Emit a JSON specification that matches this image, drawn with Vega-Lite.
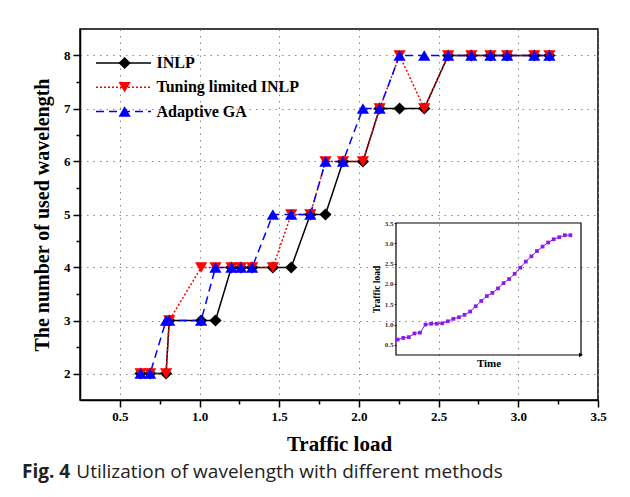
{
  "$schema": "https://vega.github.io/schema/vega-lite/v6.json",
  "width": 518,
  "height": 371,
  "autosize": {"type": "none"},
  "padding": {"left": 80, "top": 29, "right": 32, "bottom": 97},
  "background": "white",
  "config": {"view": {"stroke": "black", "strokeWidth": 1.5}, "font": "Liberation Serif"},
  "title": {"text": "Fig. 4", "subtitle": "\u200b\u00a0\u00a0\u00a0\u00a0\u00a0\u00a0\u00a0\u00a0\u00a0\u00a0\u00a0Utilization of wavelength with different methods", "orient": "bottom", "anchor": "start", "frame": "group", "dx": -58, "offset": 9, "font": "Open Sans", "fontSize": 19, "fontWeight": "bold", "color": "#222", "subtitleFont": "Open Sans", "subtitleFontSize": 19, "subtitleFontWeight": "normal", "subtitleColor": "#222", "subtitlePadding": -19},
  "datasets": {
    "main": [
      {"method": "INLP", "load": 0.63, "wavelengths": 2},
      {"method": "INLP", "load": 0.69, "wavelengths": 2},
      {"method": "INLP", "load": 0.79, "wavelengths": 2},
      {"method": "INLP", "load": 0.81, "wavelengths": 3},
      {"method": "INLP", "load": 1.01, "wavelengths": 3},
      {"method": "INLP", "load": 1.10, "wavelengths": 3},
      {"method": "INLP", "load": 1.20, "wavelengths": 4},
      {"method": "INLP", "load": 1.26, "wavelengths": 4},
      {"method": "INLP", "load": 1.33, "wavelengths": 4},
      {"method": "INLP", "load": 1.46, "wavelengths": 4},
      {"method": "INLP", "load": 1.575, "wavelengths": 4},
      {"method": "INLP", "load": 1.695, "wavelengths": 5},
      {"method": "INLP", "load": 1.79, "wavelengths": 5},
      {"method": "INLP", "load": 1.90, "wavelengths": 6},
      {"method": "INLP", "load": 2.025, "wavelengths": 6},
      {"method": "INLP", "load": 2.13, "wavelengths": 7},
      {"method": "INLP", "load": 2.255, "wavelengths": 7},
      {"method": "INLP", "load": 2.41, "wavelengths": 7},
      {"method": "INLP", "load": 2.56, "wavelengths": 8},
      {"method": "INLP", "load": 2.705, "wavelengths": 8},
      {"method": "INLP", "load": 2.825, "wavelengths": 8},
      {"method": "INLP", "load": 2.93, "wavelengths": 8},
      {"method": "INLP", "load": 3.10, "wavelengths": 8},
      {"method": "INLP", "load": 3.195, "wavelengths": 8},
      {"method": "Tuning limited INLP", "load": 0.63, "wavelengths": 2},
      {"method": "Tuning limited INLP", "load": 0.69, "wavelengths": 2},
      {"method": "Tuning limited INLP", "load": 0.79, "wavelengths": 2},
      {"method": "Tuning limited INLP", "load": 0.81, "wavelengths": 3},
      {"method": "Tuning limited INLP", "load": 1.01, "wavelengths": 4},
      {"method": "Tuning limited INLP", "load": 1.10, "wavelengths": 4},
      {"method": "Tuning limited INLP", "load": 1.20, "wavelengths": 4},
      {"method": "Tuning limited INLP", "load": 1.26, "wavelengths": 4},
      {"method": "Tuning limited INLP", "load": 1.33, "wavelengths": 4},
      {"method": "Tuning limited INLP", "load": 1.46, "wavelengths": 4},
      {"method": "Tuning limited INLP", "load": 1.575, "wavelengths": 5},
      {"method": "Tuning limited INLP", "load": 1.695, "wavelengths": 5},
      {"method": "Tuning limited INLP", "load": 1.79, "wavelengths": 6},
      {"method": "Tuning limited INLP", "load": 1.90, "wavelengths": 6},
      {"method": "Tuning limited INLP", "load": 2.025, "wavelengths": 6},
      {"method": "Tuning limited INLP", "load": 2.13, "wavelengths": 7},
      {"method": "Tuning limited INLP", "load": 2.255, "wavelengths": 8},
      {"method": "Tuning limited INLP", "load": 2.41, "wavelengths": 7},
      {"method": "Tuning limited INLP", "load": 2.56, "wavelengths": 8},
      {"method": "Tuning limited INLP", "load": 2.705, "wavelengths": 8},
      {"method": "Tuning limited INLP", "load": 2.825, "wavelengths": 8},
      {"method": "Tuning limited INLP", "load": 2.93, "wavelengths": 8},
      {"method": "Tuning limited INLP", "load": 3.10, "wavelengths": 8},
      {"method": "Tuning limited INLP", "load": 3.195, "wavelengths": 8},
      {"method": "Adaptive GA", "load": 0.63, "wavelengths": 2},
      {"method": "Adaptive GA", "load": 0.69, "wavelengths": 2},
      {"method": "Adaptive GA", "load": 0.79, "wavelengths": 3},
      {"method": "Adaptive GA", "load": 0.81, "wavelengths": 3},
      {"method": "Adaptive GA", "load": 1.01, "wavelengths": 3},
      {"method": "Adaptive GA", "load": 1.10, "wavelengths": 4},
      {"method": "Adaptive GA", "load": 1.20, "wavelengths": 4},
      {"method": "Adaptive GA", "load": 1.26, "wavelengths": 4},
      {"method": "Adaptive GA", "load": 1.33, "wavelengths": 4},
      {"method": "Adaptive GA", "load": 1.46, "wavelengths": 5},
      {"method": "Adaptive GA", "load": 1.575, "wavelengths": 5},
      {"method": "Adaptive GA", "load": 1.695, "wavelengths": 5},
      {"method": "Adaptive GA", "load": 1.79, "wavelengths": 6},
      {"method": "Adaptive GA", "load": 1.90, "wavelengths": 6},
      {"method": "Adaptive GA", "load": 2.025, "wavelengths": 7},
      {"method": "Adaptive GA", "load": 2.13, "wavelengths": 7},
      {"method": "Adaptive GA", "load": 2.255, "wavelengths": 8},
      {"method": "Adaptive GA", "load": 2.41, "wavelengths": 8},
      {"method": "Adaptive GA", "load": 2.56, "wavelengths": 8},
      {"method": "Adaptive GA", "load": 2.705, "wavelengths": 8},
      {"method": "Adaptive GA", "load": 2.825, "wavelengths": 8},
      {"method": "Adaptive GA", "load": 2.93, "wavelengths": 8},
      {"method": "Adaptive GA", "load": 3.10, "wavelengths": 8},
      {"method": "Adaptive GA", "load": 3.195, "wavelengths": 8}
    ],
    "inset": [
      {"time": 1, "load": 0.63}, {"time": 2, "load": 0.67}, {"time": 3, "load": 0.69}, {"time": 4, "load": 0.78},
      {"time": 5, "load": 0.80}, {"time": 6, "load": 1.00}, {"time": 7, "load": 1.02}, {"time": 8, "load": 1.02},
      {"time": 9, "load": 1.03}, {"time": 10, "load": 1.08}, {"time": 11, "load": 1.14}, {"time": 12, "load": 1.18},
      {"time": 13, "load": 1.24}, {"time": 14, "load": 1.32}, {"time": 15, "load": 1.45}, {"time": 16, "load": 1.58},
      {"time": 17, "load": 1.70}, {"time": 18, "load": 1.78}, {"time": 19, "load": 1.89}, {"time": 20, "load": 2.02},
      {"time": 21, "load": 2.12}, {"time": 22, "load": 2.25}, {"time": 23, "load": 2.40}, {"time": 24, "load": 2.55},
      {"time": 25, "load": 2.68}, {"time": 26, "load": 2.81}, {"time": 27, "load": 2.92}, {"time": 28, "load": 3.02},
      {"time": 29, "load": 3.10}, {"time": 30, "load": 3.15}, {"time": 31, "load": 3.20}, {"time": 32, "load": 3.20}
    ]
  },
  "layer": [
    {
      "data": {"name": "main"},
      "encoding": {
        "x": {"field": "load", "type": "quantitative", "scale": {"domain": [0.25, 3.5], "nice": false, "zero": false},
          "axis": {"orient": "bottom", "values": [0.5, 0.75, 1, 1.25, 1.5, 1.75, 2, 2.25, 2.5, 2.75, 3, 3.25, 3.5],
            "labelExpr": "datum.value % 0.5 === 0 ? format(datum.value, '.1f') : ''",
            "tickSize": {"condition": {"test": "datum.value % 0.5 === 0", "value": 7}, "value": 4},
            "gridOpacity": {"condition": {"test": "datum.value % 0.5 === 0", "value": 1}, "value": 0},
            "grid": true, "gridColor": "#888", "gridDash": [1.5, 5], "gridWidth": 1,
            "domain": true, "domainColor": "black", "domainWidth": 1.5,
            "ticks": true, "tickColor": "black", "tickWidth": 1.5,
            "labelFont": "Liberation Serif", "labelFontSize": 13, "labelFontWeight": "bold", "labelColor": "black", "labelPadding": 3,
            "labelFlush": false, "labelOverlap": false,
            "title": "Traffic load", "titleFont": "Liberation Serif", "titleFontSize": 21, "titleFontWeight": "bold", "titleColor": "black", "titlePadding": 10}},
        "y": {"field": "wavelengths", "type": "quantitative", "scale": {"domain": [1.5, 8.5], "nice": false, "zero": false},
          "axis": {"orient": "left", "values": [2, 2.5, 3, 3.5, 4, 4.5, 5, 5.5, 6, 6.5, 7, 7.5, 8],
            "labelExpr": "datum.value % 1 === 0 ? format(datum.value, 'd') : ''",
            "tickSize": {"condition": {"test": "datum.value % 1 === 0", "value": 7}, "value": 4},
            "gridOpacity": {"condition": {"test": "datum.value % 1 === 0", "value": 1}, "value": 0},
            "grid": true, "gridColor": "#888", "gridDash": [1.5, 5], "gridWidth": 1,
            "domain": true, "domainColor": "black", "domainWidth": 1.5,
            "ticks": true, "tickColor": "black", "tickWidth": 1.5,
            "labelFont": "Liberation Serif", "labelFontSize": 13, "labelFontWeight": "bold", "labelColor": "black", "labelPadding": 3,
            "labelFlush": false, "labelOverlap": false,
            "title": "The number of used wavelength", "titleFont": "Liberation Serif", "titleFontSize": 20, "titleFontWeight": "bold", "titleColor": "black", "titlePadding": 11}}
      },
      "layer": [
        {
          "mark": {"type": "line", "strokeWidth": 1.5},
          "encoding": {
            "stroke": {"field": "method", "type": "nominal",
              "scale": {"domain": ["INLP", "Tuning limited INLP", "Adaptive GA"], "range": ["black", "red", "blue"]},
              "legend": null},
            "strokeDash": {"field": "method", "type": "nominal",
              "scale": {"domain": ["INLP", "Tuning limited INLP", "Adaptive GA"], "range": [[1, 0], [2, 2], [8, 5]]},
              "legend": null}
          }
        },
        {
          "mark": {"type": "point", "filled": true, "size": 150, "opacity": 1},
          "encoding": {
            "fill": {"field": "method", "type": "nominal",
              "scale": {"domain": ["INLP", "Tuning limited INLP", "Adaptive GA"], "range": ["black", "red", "blue"]},
              "legend": null},
            "shape": {"field": "method", "type": "nominal",
              "scale": {"domain": ["INLP", "Tuning limited INLP", "Adaptive GA"], "range": ["diamond", "triangle-down", "triangle-up"]},
              "legend": null}
          }
        }
      ]
    },
    {
      "data": {"name": "main"},
      "transform": [{"aggregate": [{"op": "count", "as": "n"}], "groupby": ["method"]}],
      "encoding": {
        "y": {"field": "method", "type": "nominal",
          "scale": {"type": "point", "domain": ["INLP", "Tuning limited INLP", "Adaptive GA"], "range": [34, 82.5], "padding": 0}, "axis": null}
      },
      "layer": [
        {
          "mark": {"type": "rule", "strokeWidth": 1.5},
          "encoding": {
            "x": {"datum": 0, "type": "quantitative", "scale": {"domain": [0, 1], "range": [16, 71], "nice": false, "zero": false}, "axis": null},
            "x2": {"datum": 1},
            "stroke": {"field": "method", "type": "nominal",
              "scale": {"domain": ["INLP", "Tuning limited INLP", "Adaptive GA"], "range": ["black", "red", "blue"]},
              "legend": null},
            "strokeDash": {"field": "method", "type": "nominal",
              "scale": {"domain": ["INLP", "Tuning limited INLP", "Adaptive GA"], "range": [[1, 0], [2, 2], [8, 5]]},
              "legend": null}
          }
        },
        {
          "mark": {"type": "point", "filled": true, "size": 150, "opacity": 1},
          "encoding": {
            "x": {"datum": 0.52, "type": "quantitative", "scale": {"domain": [0, 1], "range": [16, 71], "nice": false, "zero": false}, "axis": null},
            "fill": {"field": "method", "type": "nominal",
              "scale": {"domain": ["INLP", "Tuning limited INLP", "Adaptive GA"], "range": ["black", "red", "blue"]},
              "legend": null},
            "shape": {"field": "method", "type": "nominal",
              "scale": {"domain": ["INLP", "Tuning limited INLP", "Adaptive GA"], "range": ["diamond", "triangle-down", "triangle-up"]},
              "legend": null}
          }
        },
        {
          "mark": {"type": "text", "align": "left", "baseline": "middle", "font": "Liberation Serif", "fontSize": 16, "fontWeight": "bold", "color": "black"},
          "encoding": {
            "x": {"datum": 1.1, "type": "quantitative", "scale": {"domain": [0, 1], "range": [16, 71], "nice": false, "zero": false}, "axis": null},
            "text": {"field": "method", "type": "nominal"}
          }
        }
      ]
    },
    {
      "layer": [
        {
          "data": {"values": [{}]},
          "mark": {"type": "rect", "fill": "transparent", "stroke": "black", "strokeWidth": 1.2},
          "encoding": {
            "x": {"datum": 0.7, "type": "quantitative", "scale": {"domain": [0.7, 33.9], "range": [316, 501], "nice": false, "zero": false},
              "axis": {"orient": "bottom", "offset": -45, "grid": false, "domain": false, "ticks": false, "labels": false,
                "title": "Time", "titleFont": "Liberation Serif", "titleFontSize": 11, "titleFontWeight": "bold", "titleColor": "black", "titlePadding": 2}},
            "x2": {"datum": 33.9},
            "y": {"datum": 0.25, "type": "quantitative", "scale": {"domain": [0.25, 3.5], "range": [326, 194], "nice": false, "zero": false},
              "axis": {"orient": "left", "offset": -316, "values": [0.5, 1, 1.5, 2, 2.5, 3, 3.5], "format": ".1f", "grid": false, "domain": false,
                "ticks": true, "tickSize": 2, "tickColor": "black", "tickWidth": 0.8,
                "labelFont": "Liberation Serif", "labelFontSize": 7, "labelFontWeight": "bold", "labelColor": "#333", "labelPadding": 1,
                "title": "Traffic load", "titleFont": "Liberation Serif", "titleFontSize": 9.5, "titleFontWeight": "bold", "titleColor": "black", "titlePadding": 3}},
            "y2": {"datum": 3.5}
          }
        },
        {
          "data": {"name": "inset"},
          "mark": {"type": "line", "color": "#8B1AF0", "strokeWidth": 1, "point": {"filled": true, "shape": "square", "size": 14, "color": "#8B1AF0"}},
          "encoding": {
            "x": {"field": "time", "type": "quantitative", "scale": {"domain": [0.7, 33.9], "range": [316, 501], "nice": false, "zero": false},
              "axis": {"orient": "bottom", "offset": -45, "grid": false, "domain": false, "ticks": false, "labels": false,
                "title": "Time", "titleFont": "Liberation Serif", "titleFontSize": 11, "titleFontWeight": "bold", "titleColor": "black", "titlePadding": 2}},
            "y": {"field": "load", "type": "quantitative", "scale": {"domain": [0.25, 3.5], "range": [326, 194], "nice": false, "zero": false},
              "axis": {"orient": "left", "offset": -316, "values": [0.5, 1, 1.5, 2, 2.5, 3, 3.5], "format": ".1f", "grid": false, "domain": false,
                "ticks": true, "tickSize": 2, "tickColor": "black", "tickWidth": 0.8,
                "labelFont": "Liberation Serif", "labelFontSize": 7, "labelFontWeight": "bold", "labelColor": "#333", "labelPadding": 1,
                "title": "Traffic load", "titleFont": "Liberation Serif", "titleFontSize": 9.5, "titleFontWeight": "bold", "titleColor": "black", "titlePadding": 3}}
          }
        },
        {
          "data": {"values": [{}]},
          "mark": {"type": "point", "shape": "triangle-right", "filled": true, "color": "black", "size": 20, "opacity": 1},
          "encoding": {
            "x": {"datum": 33.9, "type": "quantitative", "scale": {"domain": [0.7, 33.9], "range": [316, 501], "nice": false, "zero": false},
              "axis": {"orient": "bottom", "offset": -45, "grid": false, "domain": false, "ticks": false, "labels": false,
                "title": "Time", "titleFont": "Liberation Serif", "titleFontSize": 11, "titleFontWeight": "bold", "titleColor": "black", "titlePadding": 2}},
            "y": {"datum": 0.25, "type": "quantitative", "scale": {"domain": [0.25, 3.5], "range": [326, 194], "nice": false, "zero": false},
              "axis": {"orient": "left", "offset": -316, "values": [0.5, 1, 1.5, 2, 2.5, 3, 3.5], "format": ".1f", "grid": false, "domain": false,
                "ticks": true, "tickSize": 2, "tickColor": "black", "tickWidth": 0.8,
                "labelFont": "Liberation Serif", "labelFontSize": 7, "labelFontWeight": "bold", "labelColor": "#333", "labelPadding": 1,
                "title": "Traffic load", "titleFont": "Liberation Serif", "titleFontSize": 9.5, "titleFontWeight": "bold", "titleColor": "black", "titlePadding": 3}}
          }
        }
      ]
    }
  ],
  "resolve": {"scale": {"x": "independent", "y": "independent"}, "axis": {"x": "independent", "y": "independent"}}
}
